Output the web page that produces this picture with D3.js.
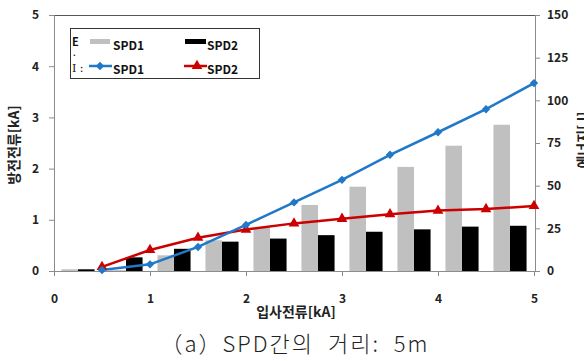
<!DOCTYPE html>
<html><head><meta charset="utf-8">
<script src="https://cdn.jsdelivr.net/npm/d3@7"></script>
<style>body{margin:0;background:#fff}svg{display:block}</style>
</head><body><svg id="c" width="584" height="361"></svg>
<script>
// ---- data ----
const barCategories = [0.5, 1, 1.5, 2, 2.5, 3, 3.5, 4, 4.5, 5];
const energySPD1 = [1, 0.5, 9.2, 18, 25.6, 38.7, 49.4, 61, 73.4, 85.7];
const energySPD2 = [1, 8, 13, 17.2, 19, 21, 23, 24.4, 26, 26.5];
const currentX = [0.5, 1, 1.5, 2, 2.5, 3, 3.5, 4, 4.5, 5];
const currentSPD1 = [0.02, 0.13, 0.47, 0.9, 1.34, 1.78, 2.27, 2.71, 3.16, 3.67];
const currentSPD2 = [0.08, 0.41, 0.65, 0.81, 0.93, 1.02, 1.11, 1.18, 1.21, 1.27];
const xTicks = [0, 1, 2, 3, 4, 5];
const yLeftTicks = [0, 1, 2, 3, 4, 5];
const yRightTicks = [0, 25, 50, 75, 100, 125, 150];
const seriesNames = ["SPD1", "SPD2"];

const svg = d3.select("#c");
const L = 54, R = 535, T = 15, B = 271;
const font = "'Noto Sans CJK KR','Malgun Gothic',sans-serif";
const axisCol = "#8c8c8c";
const blue = "#1f78c8", red = "#cc0000", gray = "#c0c0c0";

const x = d3.scaleLinear().domain([0, 5]).range([L, R - 1]);
const yL = d3.scaleLinear().domain([0, 5]).range([B, T]);
const yR = d3.scaleLinear().domain([0, 150]).range([B, T]);
const band = d3.scaleBand().domain(barCategories).range([x(0), x(5)]).paddingInner(0.31).paddingOuter(0.155);
const sub = d3.scaleBand().domain(seriesNames).range([0, band.bandwidth()]);

// bars
const bars = svg.append("g");
[energySPD1, energySPD2].forEach((vals, si) => {
  bars.selectAll(null).data(vals).enter().append("rect")
    .attr("x", (d, i) => band(barCategories[i]) + sub(seriesNames[si]))
    .attr("width", sub.bandwidth())
    .attr("y", d => yR(d)).attr("height", d => B - yR(d))
    .attr("fill", si ? "#000" : gray);
});

// frame top
svg.append("line").attr("x1", L).attr("x2", R).attr("y1", T + 0.5).attr("y2", T + 0.5).attr("stroke", "#555");

// axes
const tickFont = g => g.selectAll("text").attr("font-family", font).attr("font-weight", "bold").attr("font-size", 12).attr("fill", "#222");
const gl = svg.append("g").attr("transform", `translate(${L},0)`)
  .call(d3.axisLeft(yL).tickValues(yLeftTicks).tickSize(5).tickPadding(10).tickFormat(d3.format("d")));
gl.select(".domain").attr("stroke", axisCol);
gl.selectAll(".tick line").attr("stroke", axisCol);
tickFont(gl);
const gr = svg.append("g").attr("transform", `translate(${R},0)`)
  .call(d3.axisRight(yR).tickValues(yRightTicks).tickSize(5).tickPadding(7));
gr.select(".domain").attr("stroke", axisCol);
gr.selectAll(".tick line").attr("stroke", axisCol);
tickFont(gr);
const gb = svg.append("g").attr("transform", `translate(0,${B})`)
  .call(d3.axisBottom(x).tickValues(xTicks).tickSize(5).tickPadding(18).tickFormat(d3.format("d")));
gb.select(".domain").attr("stroke", axisCol);
gb.selectAll(".tick line").attr("stroke", axisCol);
tickFont(gb);

// lines
const line = yS => d3.line().x((d, i) => x(currentX[i])).y(d => yS(d));
svg.append("path").datum(currentSPD2).attr("d", line(yL)).attr("fill", "none").attr("stroke", red).attr("stroke-width", 2.5);
svg.append("path").datum(currentSPD1).attr("d", line(yL)).attr("fill", "none").attr("stroke", blue).attr("stroke-width", 2.5);
const diamond = d3.symbol().type(d3.symbolDiamond2).size(45);
const tri = d3.symbol().type(d3.symbolTriangle).size(50);
svg.selectAll(null).data(currentSPD2).enter().append("path").attr("d", tri)
  .attr("transform", (d, i) => `translate(${x(currentX[i])},${yL(d)})`).attr("fill", red);
svg.selectAll(null).data(currentSPD1).enter().append("path").attr("d", diamond)
  .attr("transform", (d, i) => `translate(${x(currentX[i])},${yL(d)})`).attr("fill", blue);

// legend
const lg = svg.append("g");
lg.append("rect").attr("x", 70.5).attr("y", 28.5).attr("width", 189).attr("height", 50).attr("fill", "#fff").attr("stroke", "#333");
const lt = (tx, ty, s, sz) => lg.append("text").attr("x", tx).attr("y", ty).text(s)
  .attr("font-family", font).attr("font-weight", "bold").attr("font-size", sz || 12).attr("fill", "#111");
lt(72, 46, "E", 11);
lt(72, 58, "·", 8);
lg.append("text").attr("x", 72).attr("y", 72).text("I :").attr("font-family", "'DejaVu Serif',serif").attr("font-size", 11).attr("fill", "#111");
lg.append("rect").attr("x", 90).attr("y", 39).attr("width", 20).attr("height", 5).attr("fill", gray);
lg.append("rect").attr("x", 185).attr("y", 39).attr("width", 21).attr("height", 5).attr("fill", "#000");
lt(113, 50, seriesNames[0]); lt(207, 50, seriesNames[1]);
lg.append("line").attr("x1", 89).attr("x2", 112).attr("y1", 66).attr("y2", 66).attr("stroke", blue).attr("stroke-width", 2.5);
lg.append("path").attr("d", diamond).attr("transform", "translate(100,66)").attr("fill", blue);
lg.append("line").attr("x1", 184).attr("x2", 207).attr("y1", 66).attr("y2", 66).attr("stroke", red).attr("stroke-width", 2.5);
lg.append("path").attr("d", tri).attr("transform", "translate(197,66)").attr("fill", red);
lt(113, 74, seriesNames[0]); lt(207, 74, seriesNames[1]);

// titles
svg.append("text").attr("x", 296).attr("y", 317).attr("text-anchor", "middle").text("입사전류[kA]")
  .attr("font-family", font).attr("font-weight", "bold").attr("font-size", 14).attr("fill", "#222");
svg.append("text").attr("transform", "translate(19,145) rotate(-90)").attr("text-anchor", "middle").text("방전전류[kA]")
  .attr("font-family", font).attr("font-weight", "bold").attr("font-size", 14).attr("fill", "#222");
svg.append("text").attr("transform", "translate(588,140) rotate(-90)").attr("text-anchor", "middle").text("에너지[J]")
  .attr("font-family", font).attr("font-weight", "bold").attr("font-size", 14).attr("fill", "#222");
svg.append("text").attr("x", 295).attr("y", 352).attr("text-anchor", "middle").text("（a）SPD간의 거리: 5m")
  .attr("word-spacing", 7).attr("letter-spacing", 2)
  .attr("font-family", font).attr("font-weight", 300).attr("font-size", 22).attr("fill", "#222");
</script></body></html>
